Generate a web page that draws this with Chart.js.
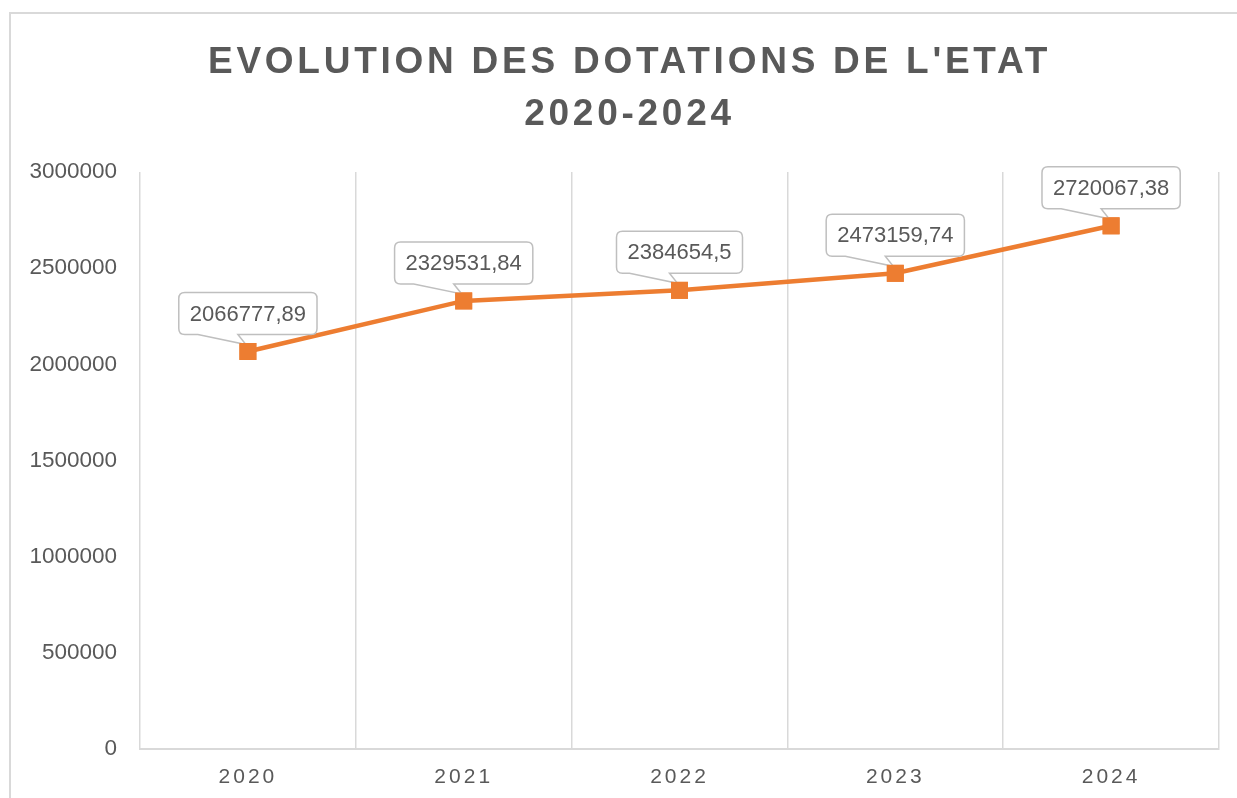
<!DOCTYPE html>
<html>
<head>
<meta charset="utf-8">
<script src="https://cdn.jsdelivr.net/npm/chart.js@4"></script>
<style>
    body { margin: 0; background: #ffffff; }
    #wrap { position: relative; width: 1237px; height: 798px; overflow: hidden; }
</style>
</head>
<body>
<div id="wrap"><canvas id="myLineChart" width="1237" height="798"></canvas></div>
<script>
// chart data
var years = ['2020', '2021', '2022', '2023', '2024'];
var dotations = [2066777.89, 2329531.84, 2384654.5, 2473159.74, 2720067.38];
var yTicks = [0, 500000, 1000000, 1500000, 2000000, 2500000, 3000000];

var grey = '#595959';
var orange = '#ED7D31';
var fontName = "'Liberation Sans', Arial, sans-serif";

// frame + letter spacing for title and x labels
var framePlugin = {
    id: 'frame',
    beforeDraw: function (chart) {
        var ctx = chart.ctx;
        ctx.save();
        ctx.fillStyle = '#ffffff';
        ctx.fillRect(0, 0, chart.width, chart.height);
        ctx.strokeStyle = '#d9d9d9';
        ctx.lineWidth = 2;
        ctx.strokeRect(10, 13, 1400, 1000);
        ctx.restore();

        var xs = chart.scales.x;
        if (xs && !xs._spaced) {
            var origLabels = xs.drawLabels;
            xs.drawLabels = function (area) {
                this.ctx.save();
                this.ctx.letterSpacing = '3px';
                origLabels.call(this, area);
                this.ctx.restore();
            };
            xs._spaced = true;
        }
        var tb = chart.titleBlock;
        if (tb && !tb._spaced) {
            var origTitle = tb.draw;
            tb.draw = function () {
                this.ctx.save();
                this.ctx.letterSpacing = '3.75px';
                this.ctx.translate(20, 3);
                origTitle.call(this);
                this.ctx.restore();
            };
            tb._spaced = true;
        }
    }
};

// callout boxes above each point
var calloutPlugin = {
    id: 'callouts',
    afterDatasetsDraw: function (chart) {
        var ctx = chart.ctx;
        var meta = chart.getDatasetMeta(0);
        ctx.save();
        ctx.font = '22px ' + fontName;
        meta.data.forEach(function (pt, i) {
            var txt = String(dotations[i]).replace('.', ',');
            var w = ctx.measureText(txt).width + 22;
            var h = 42;
            var r = 6;
            var left = pt.x - w / 2;
            var bottom = pt.y - 17;
            var top = bottom - h;
            var right = left + w;

            ctx.beginPath();
            ctx.moveTo(left + r, top);
            ctx.lineTo(right - r, top);
            ctx.quadraticCurveTo(right, top, right, top + r);
            ctx.lineTo(right, bottom - r);
            ctx.quadraticCurveTo(right, bottom, right - r, bottom);
            ctx.lineTo(pt.x - 10, bottom);
            ctx.lineTo(pt.x - 2, pt.y - 7);
            ctx.lineTo(pt.x - 50, bottom);
            ctx.lineTo(left + r, bottom);
            ctx.quadraticCurveTo(left, bottom, left, bottom - r);
            ctx.lineTo(left, top + r);
            ctx.quadraticCurveTo(left, top, left + r, top);
            ctx.closePath();
            ctx.fillStyle = '#ffffff';
            ctx.fill();
            ctx.strokeStyle = '#bfbfbf';
            ctx.lineWidth = 1.5;
            ctx.stroke();

            ctx.fillStyle = grey;
            ctx.textAlign = 'center';
            ctx.textBaseline = 'middle';
            ctx.fillText(txt, pt.x, top + h / 2 + 1);
        });
        ctx.restore();
        // markers on top of the callout tails
        meta.data.forEach(function (pt) { pt.draw(ctx, chart.chartArea); });
    }
};

var myLineChart = document.getElementById('myLineChart').getContext('2d');
var myLineChart = new Chart(myLineChart, {
    type: 'line',
    data: {
        labels: years,
        datasets: [{
            label: 'Dotations',
            data: dotations,
            borderColor: orange,
            backgroundColor: orange,
            borderWidth: 4.5,
            pointStyle: 'rect',
            pointRadius: 12,
            pointBorderWidth: 0,
            tension: 0
        }]
    },
    options: {
        responsive: false,
        devicePixelRatio: 1,
        animation: false,
        layout: {
            padding: { left: 0, right: 18, top: 0, bottom: 0 }
        },
        plugins: {
            legend: { display: false },
            tooltip: { enabled: false },
            title: {
                display: true,
                text: ["EVOLUTION DES DOTATIONS DE L'ETAT", '2020-2024'],
                color: grey,
                font: { family: fontName, size: 37, weight: 'bold', lineHeight: 1.405 },
                padding: { top: 34, bottom: 34 }
            }
        },
        scales: {
            x: {
                offset: true,
                afterFit: function (scale) { scale.height = 49; },
                grid: { offset: true, color: '#d9d9d9', lineWidth: 1.5, drawTicks: false },
                border: { color: '#d9d9d9', width: 2 },
                ticks: {
                    color: grey,
                    padding: 16,
                    font: { family: fontName, size: 21 }
                }
            },
            y: {
                min: yTicks[0],
                max: yTicks[yTicks.length - 1],
                afterFit: function (scale) { scale.width = 140; },
                grid: { display: false, drawTicks: false },
                border: { display: false },
                ticks: {
                    stepSize: yTicks[1] - yTicks[0],
                    color: grey,
                    padding: 23,
                    font: { family: fontName, size: 22.5 },
                    callback: function (v) { return String(v); }
                }
            }
        }
    },
    plugins: [framePlugin, calloutPlugin]
});
</script>
</body>
</html>
